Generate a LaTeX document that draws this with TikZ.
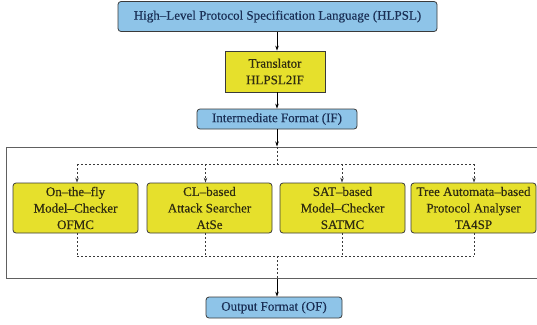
\documentclass[tikz,border=0pt]{standalone}
\usepackage{fontspec}
\setmainfont{Liberation Serif}
\newfontfamily\thickserif{Liberation Serif}[FakeBold=0.4]
\usetikzlibrary{arrows.meta}
\definecolor{boxblue}{HTML}{8EC4E8}
\definecolor{boxyellow}{HTML}{E6E02C}
\definecolor{edgecol}{HTML}{3A3A3A}
\definecolor{bluetext}{HTML}{1A2F55}
\definecolor{yellowtext}{HTML}{302C10}
\definecolor{framecol}{HTML}{606060}
\begin{document}
\begin{tikzpicture}[x=1pt,y=-1pt,
  boxfont/.style={font=\thickserif\fontsize{13}{16.5}\selectfont},
  bluebox/.style={draw=edgecol, fill=boxblue, rounded corners=3pt, line width=0.8pt, text=bluetext, inner sep=0pt, boxfont},
  yellowbox/.style={draw=edgecol, fill=boxyellow, line width=0.8pt, text=yellowtext, inner sep=0pt, align=center, boxfont},
  modbox/.style={yellowbox, rounded corners=3pt, minimum width=125pt, minimum height=50pt},
  framebox/.style={draw=framecol, line width=1pt, inner sep=0pt},
  solidarrow/.style={draw=black, line width=0.7pt, -{Stealth[length=5pt,width=3.5pt]}},
  dashline/.style={draw=edgecol, line width=0.7pt, dash pattern=on 2pt off 2pt},
  dasharrow/.style={dashline, -{Stealth[length=5pt,width=3.5pt]}}
]
\useasboundingbox (0,0) rectangle (537,324);
\coordinate (spine) at (277,0);

\node[framebox, minimum width=531pt, minimum height=131pt] (frame) at (271.5,212.5) {};

\node[bluebox, minimum width=319pt, minimum height=30pt] (hlpsl) at (277.5,16.5) {High–Level Protocol Specification Language (HLPSL)};
\node[yellowbox, minimum width=100pt, minimum height=41pt] (trans) at (275,71.5) {Translator\\HLPSL2IF};
\node[bluebox, minimum width=160pt, minimum height=20pt] (if) at (277,119) {Intermediate Format (IF)};

\node[modbox] (ofmc) at (75.5,208) {On–the–fly\\Model–Checker\\OFMC};
\node[modbox] (atse) at (209.5,208) {CL–based\\Attack Searcher\\AtSe};
\node[modbox] (satmc) at (342.5,208) {SAT–based\\Model–Checker\\SATMC};
\node[modbox] (ta4sp) at (473.5,208) {Tree Automata–based\\Protocol Analyser\\TA4SP};

\node[bluebox, minimum width=136pt, minimum height=21pt] (of) at (274,307.5) {Output Format (OF)};

\coordinate (topbus) at (277,164);
\coordinate (botbus) at (277,256);
\coordinate (ofmcx) at (77,0);
\coordinate (atsex) at (205.5,0);
\coordinate (satmcx) at (342,0);
\coordinate (ta4spx) at (474,0);

\draw[solidarrow] (hlpsl.south -| spine) -- (trans.north -| spine);
\draw[solidarrow] (trans.south -| spine) -- (if.north -| spine);
\draw[solidarrow] (if.south -| spine) -- (frame.north -| spine);

\draw[dashline] (frame.north -| spine) -- (topbus);
\draw[dashline] (topbus -| ofmcx) -- (topbus -| ta4spx);
\draw[dasharrow] (topbus -| ofmcx) -- (ofmc.north -| ofmcx);
\draw[dasharrow] (topbus -| atsex) -- (atse.north -| atsex);
\draw[dasharrow] (topbus -| satmcx) -- (satmc.north -| satmcx);
\draw[dasharrow] (topbus -| ta4spx) -- (ta4sp.north -| ta4spx);

\draw[dashline] (ofmc.south -| ofmcx) -- (botbus -| ofmcx);
\draw[dashline] (atse.south -| atsex) -- (botbus -| atsex);
\draw[dashline] (satmc.south -| satmcx) -- (botbus -| satmcx);
\draw[dashline] (ta4sp.south -| ta4spx) -- (botbus -| ta4spx);
\draw[dashline] (botbus -| ofmcx) -- (botbus -| ta4spx);
\draw[dashline] (botbus) -- (frame.south -| spine);
\draw[solidarrow] (frame.south -| spine) -- (of.north -| spine);
\end{tikzpicture}
\end{document}
